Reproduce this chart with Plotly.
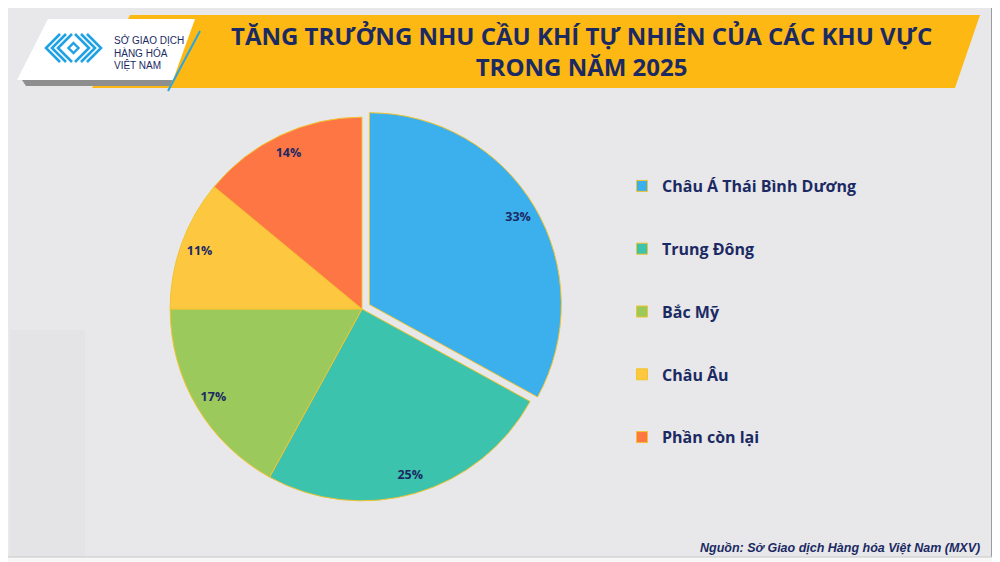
import plotly.graph_objects as go

# ---------------- data ----------------
categories = ["Châu Á Thái Bình Dương", "Trung Đông", "Bắc Mỹ", "Châu Âu", "Phần còn lại"]
values = [33, 25, 17, 11, 14]
colors = ["#3BB0EC", "#3CC3AD", "#9CC95B", "#FDC840", "#FE7644"]
pulls = [0.045, 0, 0, 0, 0]

title_line1 = "TĂNG TRƯỞNG NHU CẦU KHÍ TỰ NHIÊN CỦA CÁC KHU VỰC"
title_line2 = "TRONG NĂM 2025"
source_text = "Nguồn: Sở Giao dịch Hàng hóa Việt Nam (MXV)"
logo_lines = ["SỞ GIAO DỊCH", "HÀNG HÓA", "VIỆT NAM"]

W, H = 1000, 562
OFF = 8  # page body margin offset
NAVY = "#1B2A63"
EDGE = "#F0C330"


def px(x):
    return (x - OFF) / W


def py(y):
    return 1 - (y - OFF) / H


def path(points, close=True):
    s = "M " + " L ".join(f"{px(x):.5f},{py(y):.5f}" for x, y in points)
    return s + (" Z" if close else "")


fig = go.Figure()

domain = dict(x=[px(161.5), px(562.5)], y=[py(509.5), py(108.5)])

# main pie
fig.add_trace(go.Pie(
    labels=categories, values=values, sort=False, direction="clockwise", rotation=0,
    pull=pulls, marker=dict(colors=colors, line=dict(color=EDGE, width=1)),
    textinfo="none", hoverinfo="label+percent", showlegend=False, domain=domain,
))
# label ring (transparent) to place percentages near the rim
fig.add_trace(go.Pie(
    labels=categories, values=values, sort=False, direction="clockwise", rotation=0,
    pull=pulls, hole=0.8, marker=dict(colors=["rgba(0,0,0,0)"] * len(values), line=dict(width=0)),
    texttemplate="%{value}%", textposition="inside", insidetextorientation="horizontal",
    textfont=dict(family="Open Sans", size=12.5, color=NAVY, weight=700),
    hoverinfo="skip", showlegend=False, domain=domain,
))

# legend entries
for cat, col in zip(categories, colors):
    fig.add_trace(go.Scatter(
        x=[None], y=[None], mode="markers", name=cat, legendgroup=cat,
        marker=dict(symbol="square", size=11, color=col, line=dict(color=EDGE, width=1)),
        showlegend=True,
    ))

shapes = []
# subtle background block
shapes.append(dict(type="rect", xref="paper", yref="paper", x0=px(10), x1=px(85), y0=py(560), y1=py(330),
                   fillcolor="#E4E4E7", line=dict(width=0), layer="below"))
# frame edge on right / bottom
shapes.append(dict(type="rect", xref="paper", yref="paper", x0=px(993), x1=1, y0=0, y1=1,
                   fillcolor="#F7F7F7", line=dict(width=0), layer="below"))
shapes.append(dict(type="rect", xref="paper", yref="paper", x0=0, x1=1, y0=0, y1=py(557),
                   fillcolor="#F7F7F7", line=dict(width=0), layer="below"))
shapes.append(dict(type="line", xref="paper", yref="paper", x0=px(992), x1=px(992), y0=py(557), y1=1,
                   line=dict(color="#9C9C9C", width=2)))
shapes.append(dict(type="line", xref="paper", yref="paper", x0=0, x1=px(992), y0=py(557), y1=py(557),
                   line=dict(color="#C8C8C8", width=1)))
# banner
shapes.append(dict(type="path", xref="paper", yref="paper",
                   path=path([(130, 15), (980, 15), (955, 88), (92, 88)]),
                   fillcolor="#FDB813", line=dict(width=0)))
# logo shadow + white card
shapes.append(dict(type="path", xref="paper", yref="paper",
                   path=path([(22, 80), (172, 80), (170, 86), (26, 86)]),
                   fillcolor="#8E8E8E", line=dict(width=0)))
shapes.append(dict(type="path", xref="paper", yref="paper",
                   path=path([(48, 19), (195, 19), (173, 80), (17, 80)]),
                   fillcolor="#FFFFFF", line=dict(width=0)))
# blue diagonal stroke
shapes.append(dict(type="line", xref="paper", yref="paper", x0=px(200), y0=py(31), x1=px(168), y1=py(91),
                   line=dict(color="#2AA6E0", width=2)))
# logo icon: nested chevrons
BL = "#1EA2E4"
cy = 48
for k in range(3):
    shapes.append(dict(type="path", xref="paper", yref="paper",
                       path=path([(60 + 6 * k, 34), (46 + 6 * k, cy), (60 + 6 * k, 62)], close=False),
                       line=dict(color=BL, width=2.6)))
    shapes.append(dict(type="path", xref="paper", yref="paper",
                       path=path([(87 - 6 * k, 34), (101 - 6 * k, cy), (87 - 6 * k, 62)], close=False),
                       line=dict(color=BL, width=2.6)))
shapes.append(dict(type="path", xref="paper", yref="paper",
                   path=path([(73.5, 43), (78.5, 48), (73.5, 53), (68.5, 48)]),
                   fillcolor="rgba(0,0,0,0)", line=dict(color=BL, width=2.4)))

annotations = []
annotations.append(dict(text=f"<b>{title_line1}<br>{title_line2}</b>", x=px(581), y=py(51), xref="paper", yref="paper",
                        showarrow=False, xanchor="center", yanchor="middle", align="center",
                        font=dict(family="Open Sans", size=24, color=NAVY)))
for i, ln in enumerate(logo_lines):
    annotations.append(dict(text=ln, x=px(112), y=py(40 + i * 12.5), xref="paper", yref="paper",
                            showarrow=False, xanchor="left", yanchor="middle",
                            font=dict(family="Liberation Sans", size=10, color=NAVY)))
annotations.append(dict(text=f"<b><i>{source_text}</i></b>", x=px(982), y=py(548), xref="paper", yref="paper",
                        showarrow=False, xanchor="right", yanchor="middle",
                        font=dict(family="Liberation Sans", size=12.5, color=NAVY)))

fig.update_layout(
    width=W, height=H, margin=dict(l=0, r=0, t=0, b=0),
    paper_bgcolor="#E8E8EA", plot_bgcolor="rgba(0,0,0,0)",
    xaxis=dict(visible=False), yaxis=dict(visible=False),
    shapes=shapes, annotations=annotations,
    uniformtext=dict(minsize=12, mode="show"),
    legend=dict(x=px(622), y=py(169), xanchor="left", yanchor="top", bgcolor="rgba(0,0,0,0)",
                font=dict(family="Open Sans", size=16, color=NAVY, weight=700),
                tracegroupgap=39, itemclick=False, itemdoubleclick=False),
)

fig.write_html("out.html")
